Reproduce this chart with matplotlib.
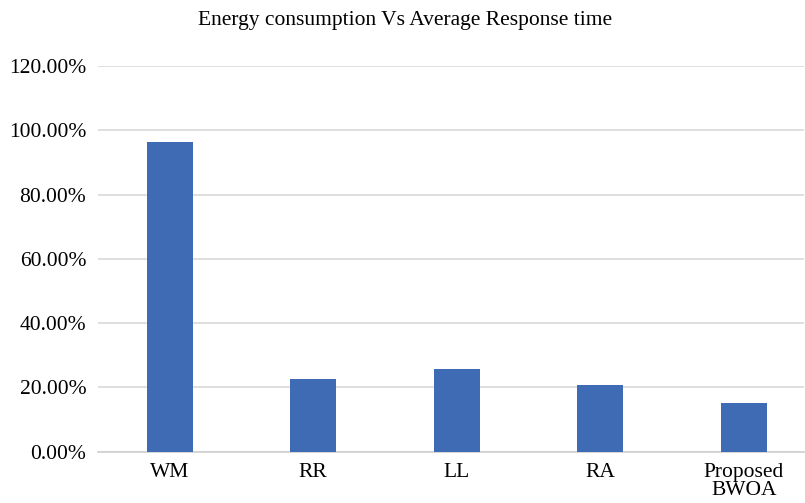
import matplotlib.pyplot as plt
from matplotlib.ticker import PercentFormatter

methods = ['WM', 'RR', 'LL', 'RA', 'Proposed\nBWOA']
energy = [96.3, 22.5, 25.6, 20.6, 15.0]
yticks = [0, 20, 40, 60, 80, 100, 120]

plt.rcParams['font.family'] = ['Liberation Serif', 'DejaVu Serif']

fig = plt.figure(figsize=(8.05, 5.03), dpi=100)
ax = fig.add_axes([98 / 805, 51.3 / 503, (804 - 98) / 805, 385.7 / 503])

x = range(len(methods))
ax.bar(x, energy, width=0.32, color='#3F6BB5', zorder=3)

ax.set_ylim(0, 120)
ax.set_xlim(-0.5, 4.42)
ax.set_yticks(yticks)
ax.yaxis.set_major_formatter(PercentFormatter(decimals=2))
ax.set_xticks(list(x))
ax.set_xticklabels(methods, fontsize=15.5, linespacing=0.95)
ax.tick_params(axis='y', labelsize=15.5, length=0, pad=8.5)
ax.tick_params(axis='x', length=0, pad=8)

ax.grid(axis='y', color='#D9D9D9', linewidth=1.2, zorder=0)
for side in ['top', 'right', 'left']:
    ax.spines[side].set_visible(False)
ax.spines['bottom'].set_color('#D0D0D0')
ax.spines['bottom'].set_linewidth(1.2)

fig.text(405 / 805, 1 - 20 / 503, 'Energy consumption Vs Average Response time',
         ha='center', va='center', fontsize=15.5)

fig.savefig('out.png', dpi=100)
